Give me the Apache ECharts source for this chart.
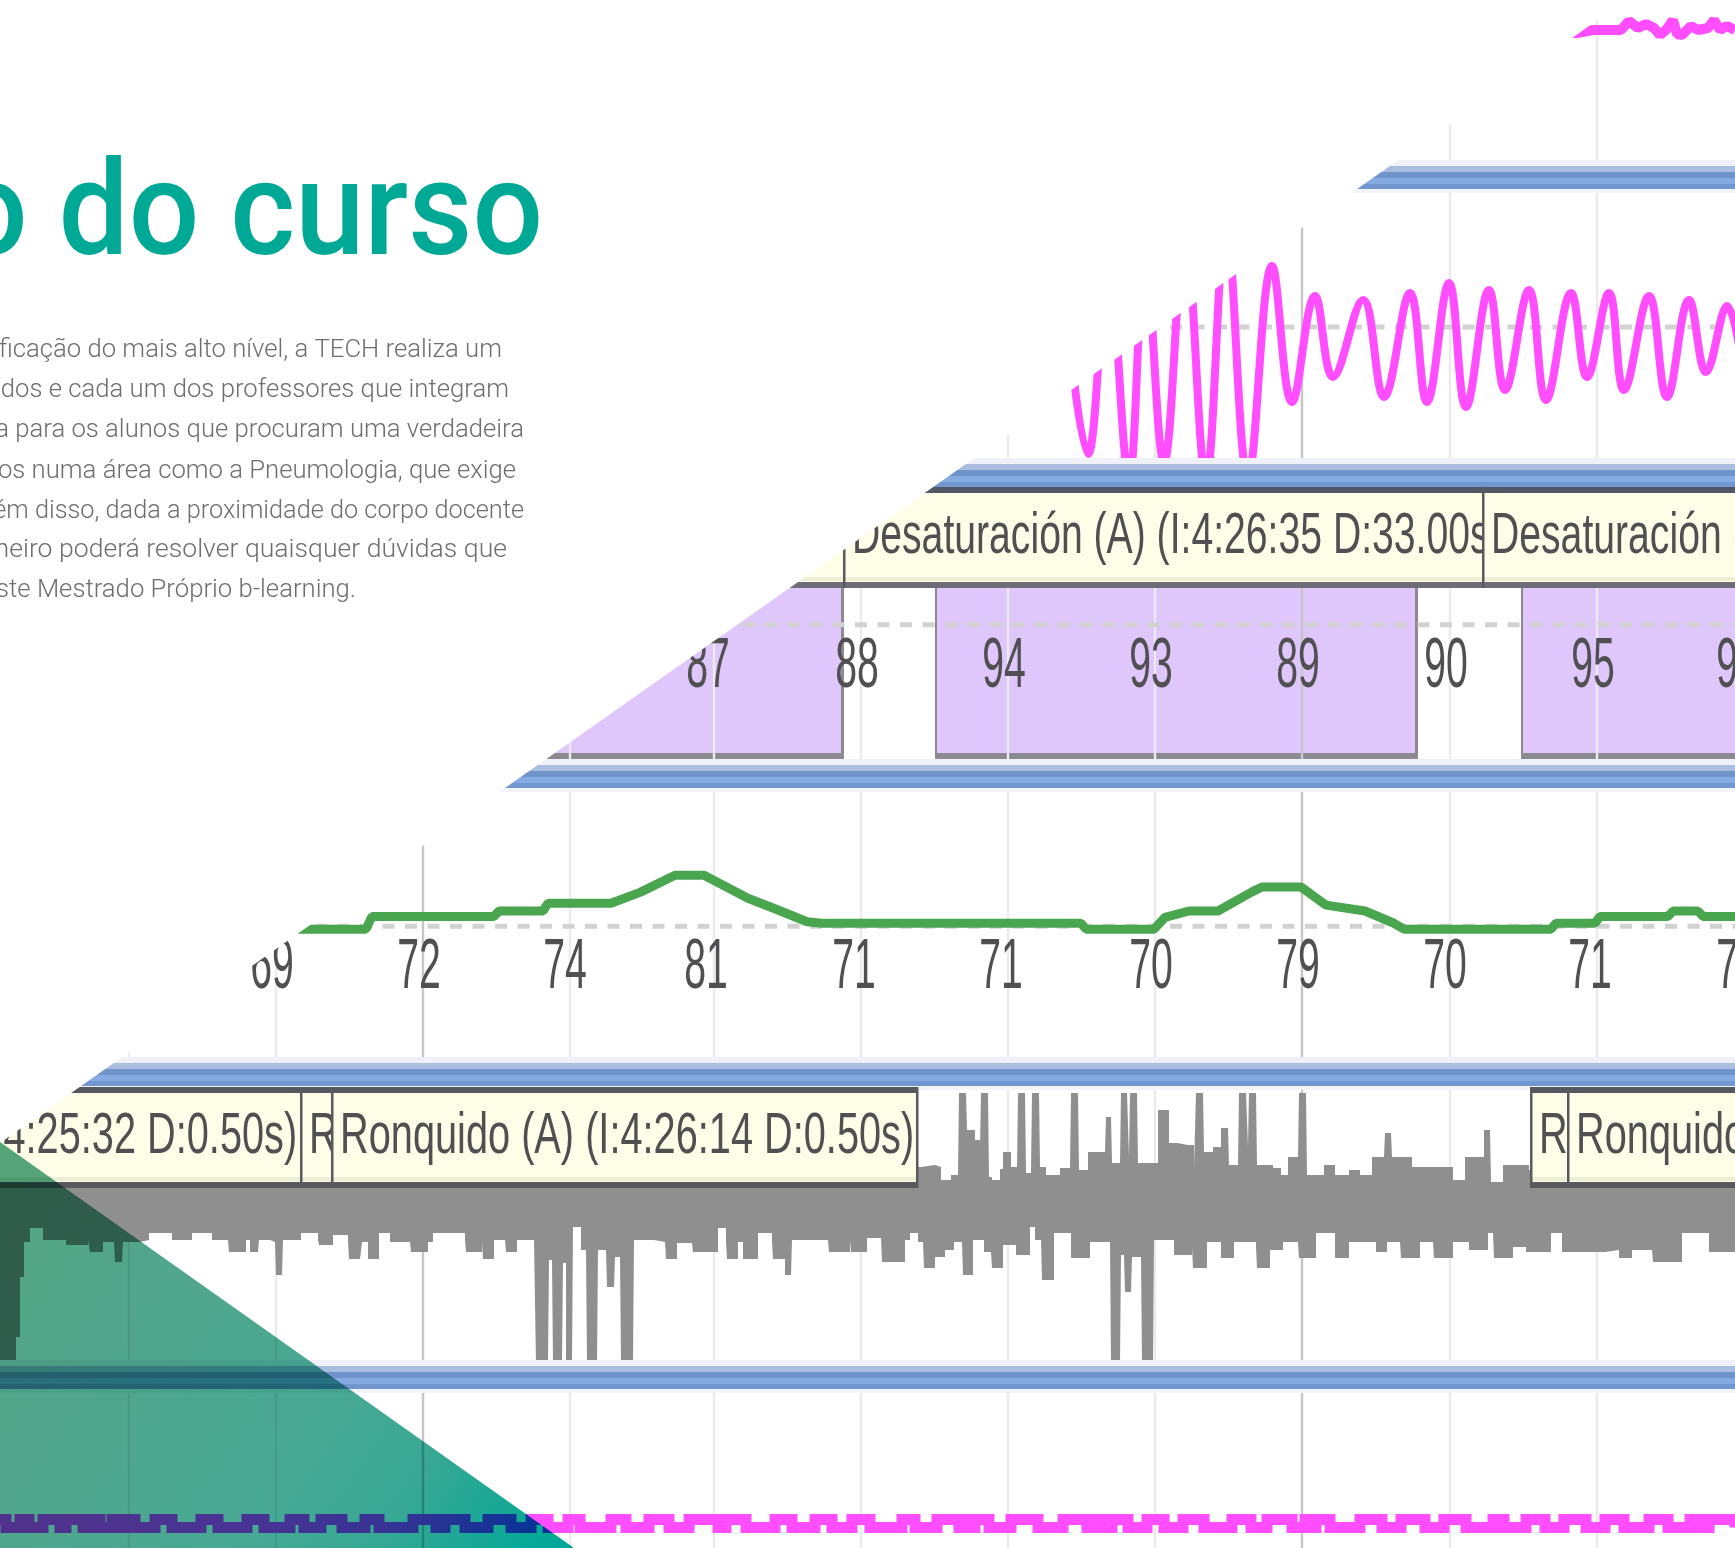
<!DOCTYPE html>
<html><head><meta charset="utf-8">
<style>html,body{margin:0;padding:0;background:#fff}#c{width:1735px;height:1548px}</style>
<script src="https://cdn.jsdelivr.net/npm/echarts@6/dist/echarts.min.js"></script>
</head><body><div id="c"></div>
<script>
// ---------- data ----------
const headingText = 'o do curso';
const bodyLines = [
 'ficação do mais alto nível, a TECH realiza um',
 'dos e cada um dos professores que integram',
 'a para os alunos que procuram uma verdadeira',
 'os numa área como a Pneumologia, que exige',
 'ém disso, dada a proximidade do corpo docente',
 'meiro poderá resolver quaisquer dúvidas que',
 'ste Mestrado Próprio b-learning.'
];
const bodyEnds = [502,509,524,516,524,507,356];
const minorTicks = [129,276,570,714,861,1008,1155,1450,1597];
const majorTicks = [423,1302];
const spo2LabelX = [708,857,1004,1151,1298,1446,1593,1738];
const spo2Labels = [87,88,94,93,89,90,95,94];
const hrLabelX = [272,419,565,706,854,1001,1151,1298,1445,1590,1738];
const hrLabels = [69,72,74,81,71,71,70,79,70,71,71];
const desatEvents = [[-100,844],[935,1418],[1521,1800]];
const desatBoxes = [[-300,844,''],[844,1483,'Desaturación (A) (I:4:26:35 D:33.00s)'],[1483,2200,'Desaturación (A) (I:4:27:10 D:26.00s)']];
const snoreBoxes = [[-285,301,'Ronquido (A) (I:4:25:32 D:0.50s)'],[301,332,'R'],[332,917,'Ronquido (A) (I:4:26:14 D:0.50s)'],[1531,1568,'R'],[1568,2200,'Ronquido (A) (I:4:27:01 D:0.50s)']];
const chestTrace = [[1500,0],[1577,-3],[1593,0],[1621,0],[1629,9],[1638,2],[1646,6],[1654,2],[1660,-5],[1666,0],[1673,10],[1677,-4],[1682,-5],[1691,4],[1698,0],[1708,2],[1714,10],[1720,0],[1727,4],[1735,0]];
const flowTrace = [[1060,90],[1088,-127],[1108,60],[1129,-150],[1145,70],[1164,-135],[1185,90],[1206,-150],[1226,100],[1248,-150],[1272,61],[1292,-75],[1315,31],[1333,-50],[1363,27],[1384,-70],[1410,34],[1427,-75],[1449,44],[1466,-80],[1489,37],[1505,-63],[1529,37],[1546,-73],[1571,34],[1587,-50],[1609,34],[1624,-63],[1649,31],[1667,-70],[1689,27],[1706,-45],[1727,21],[1745,-60]];
const dashFlow = [0];
const dashSpo2 = [49.5];
const dashHr = [70.6];
const hrTrace = [[280,70],[303,70],[366,70],[372,72.6],[494,72.6],[499,73.7],[543,73.7],[548,75.3],[611,75.3],[640,77.5],[675,81],[704,81],[748,76.3],[778,73.9],[807,71.5],[822,71.2],[1081,71.2],[1086,70],[1154,70],[1165,72.4],[1189,73.7],[1218,73.7],[1252,77.6],[1262,78.6],[1301,78.6],[1326,74.9],[1365,73.7],[1394,71.2],[1404,70],[1551,70],[1556,71.2],[1595,71.2],[1600,72.6],[1668,72.6],[1673,73.7],[1698,73.7],[1703,72.6],[1735,72.6]];
const snoreLow = [[0,-156],[13,-156],[16,-130],[20,-70],[24,-35],[30,-21],[43,-33],[60,-33],[66,-38],[72,-38],[88,-33],[90,-45],[96,-45],[103,-35],[114,-33],[115,-55],[122,-55],[123,-35],[140,-33],[149,-26],[172,-33],[192,-26],[212,-33],[228,-33],[229,-45],[240,-45],[246,-33],[250,-45],[258,-45],[259,-33],[270,-35],[275,-33],[276,-68],[282,-68],[283,-33],[301,-26],[318,-33],[319,-38],[326,-38],[333,-28],[348,-33],[349,-52],[360,-52],[362,-35],[368,-52],[375,-52],[379,-26],[390,-35],[410,-33],[411,-45],[418,-45],[428,-35],[433,-26],[465,-33],[466,-45],[472,-45],[482,-35],[483,-52],[489,-52],[494,-33],[505,-33],[506,-45],[512,-45],[517,-33],[534,-33],[536,-156],[548,-156],[549,-53],[552,-53],[553,-156],[562,-156],[563,-56],[565,-56],[566,-156],[572,-156],[573,-20],[578,-20],[581,-43],[586,-43],[587,-156],[597,-156],[598,-43],[606,-43],[607,-80],[614,-80],[615,-50],[620,-50],[621,-156],[633,-156],[634,-33],[654,-35],[665,-35],[666,-52],[672,-52],[677,-36],[692,-36],[693,-45],[700,-45],[718,-21],[726,-35],[727,-52],[733,-52],[738,-35],[743,-52],[749,-52],[758,-26],[772,-35],[773,-52],[780,-52],[785,-68],[791,-68],[792,-33],[801,-33],[828,-33],[829,-45],[836,-45],[850,-33],[851,-45],[858,-45],[867,-31],[881,-33],[882,-55],[888,-55],[905,-33],[910,-26],[918,-35],[923,-35],[924,-61],[929,-61],[935,-50],[945,-43],[954,-35],[962,-35],[963,-68],[968,-68],[973,-33],[984,-45],[991,-45],[992,-61],[997,-61],[1003,-38],[1016,-48],[1030,-20],[1035,-33],[1041,-33],[1042,-73],[1048,-73],[1054,-26],[1071,-51],[1078,-51],[1090,-35],[1110,-35],[1111,-156],[1120,-156],[1121,-48],[1124,-48],[1125,-85],[1131,-85],[1132,-50],[1141,-50],[1142,-156],[1153,-156],[1154,-33],[1174,-48],[1192,-40],[1193,-61],[1199,-61],[1207,-35],[1221,-51],[1234,-35],[1256,-40],[1257,-61],[1262,-61],[1270,-43],[1283,-35],[1298,-35],[1299,-51],[1306,-51],[1316,-26],[1335,-51],[1349,-35],[1376,-45],[1387,-35],[1400,-35],[1401,-51],[1407,-51],[1420,-35],[1433,-35],[1434,-51],[1440,-51],[1453,-35],[1469,-43],[1480,-43],[1488,-26],[1493,-26],[1494,-51],[1500,-51],[1513,-40],[1526,-45],[1551,-26],[1562,-45],[1570,-45],[1605,-43],[1619,-51],[1632,-43],[1652,-45],[1653,-55],[1658,-55],[1682,-26],[1709,-45],[1735,-35]];
const snoreHigh = [[0,40],[917,40],[921,42],[935,40],[941,27],[951,32],[958,35],[959,114],[966,114],[967,77],[975,67],[980,60],[981,114],[988,114],[989,30],[992,27],[1000,38],[1003,55],[1011,40],[1017,40],[1018,114],[1025,114],[1026,34],[1031,34],[1032,114],[1039,114],[1040,40],[1046,32],[1060,39],[1070,39],[1071,114],[1078,114],[1079,37],[1084,37],[1088,55],[1105,55],[1106,90],[1111,90],[1112,44],[1120,44],[1121,114],[1127,114],[1129,50],[1130,114],[1137,114],[1138,44],[1148,44],[1158,97],[1169,64],[1177,62],[1188,62],[1194,39],[1195,39],[1196,114],[1203,114],[1204,55],[1213,60],[1221,79],[1228,79],[1229,42],[1238,42],[1239,114],[1246,114],[1248,60],[1249,114],[1256,114],[1257,42],[1273,39],[1281,32],[1288,50],[1298,50],[1299,114],[1306,114],[1307,32],[1324,42],[1335,32],[1349,37],[1360,32],[1372,50],[1384,50],[1385,74],[1391,74],[1392,50],[1398,50],[1412,40],[1431,40],[1453,27],[1465,50],[1478,50],[1484,77],[1490,77],[1491,25],[1496,25],[1503,42],[1507,42],[1529,37],[1735,40]];
const beltHigh = [[0,6],[20,29],[43,60],[66,83],[92,100],[112,123],[129,135],[155,172],[201,218],[247,264],[290,304],[321,342],[365,379],[413,436],[445,465],[488,511],[531,548],[568,580],[611,626],[649,669],[689,718],[726,746],[775,792],[815,832],[852,870],[902,915],[937,959],[965,970],[975,989],[1011,1038],[1063,1087],[1098,1106],[1112,1128],[1147,1164],[1183,1204],[1232,1251],[1267,1292],[1305,1311],[1316,1330],[1360,1382],[1401,1425],[1444,1466],[1493,1504],[1526,1545],[1564,1586],[1605,1624],[1649,1668],[1690,1698],[1709,1735]];

// ---------- layout & style ----------
const W = 1735;
const panels = [
 {top:0,   h:160, min:-130, max:30},
 {top:193, h:265, min:-131, max:134},
 {top:487, h:273, min:0,    max:100},
 {top:790, h:267, min:43.9, max:98.4},
 {top:1087,h:273, min:-153, max:120},
 {top:1387,h:161, min:-24,  max:137}
];
const bandTops = [160,458,759,1057,1360];
const bandStripes = [[0,6,'#f0f1f8'],[6,12,'#a9bddf'],[12,18,'#7093c9'],[18,24,'#86aae2'],[24,29,'#7296cf'],[29,33,'#f3f4f9']];
const PINK='#ff4dff', GREEN='#49a64f', GRAY='#8f8f8f', PURPLE='#dfc6fb', CREAM='#fefee8', INK='#505052';
const labelFont = {fontFamily:'Liberation Sans', fontSize:70, fill:INK, align:'center', verticalAlign:'middle'};

const grid = panels.map(p=>({left:0,top:p.top,width:W,height:p.h,show:false}));
const xAxis = panels.map((p,i)=>({type:'value',gridIndex:i,min:0,max:W,show:false}));
const yAxis = panels.map((p,i)=>({type:'value',gridIndex:i,min:p.min,max:p.max,show:false}));
const series = [];

function tickSeries(i, ticks, color, z){
  series.push({type:'custom',xAxisIndex:i,yAxisIndex:i,z,silent:true,data:ticks.map(t=>[t]),
    renderItem(params,api){
      const x=api.coord([api.value(0),panels[i].min])[0], cs=params.coordSys;
      return {type:'rect',shape:{x:x-1.2,y:cs.y,width:2.4,height:cs.height},style:{fill:color}};
    }});
}
panels.forEach((p,i)=>{ tickSeries(i,minorTicks,'#ebebee',2); tickSeries(i,majorTicks,'#c6c6c8',2); });

function lineSeries(i,data,width,color,extra,join){
  series.push(Object.assign({type:'line',xAxisIndex:i,yAxisIndex:i,z:4,silent:true,showSymbol:false,data,
    lineStyle:{width,color,join:join||'bevel'}},extra||{}));
}
function dashed(i,v){
  series.push({type:'line',xAxisIndex:i,yAxisIndex:i,z:3,silent:true,showSymbol:false,data:[[0,v],[W,v]],
    lineStyle:{width:5,color:'#d2d2d2',type:[12,10.5]}});
}
dashed(1,dashFlow[0]); dashed(2,dashSpo2[0]); dashed(3,dashHr[0]);
lineSeries(0,chestTrace,10,PINK);
lineSeries(1,flowTrace,8,PINK,{smooth:0.4});
lineSeries(3,hrTrace,9,GREEN);
lineSeries(5,beltHigh.flatMap(b=>[[b[0],4.5],[b[1],-3.5]]),11,PINK,{step:'end'},'miter');
[snoreHigh,snoreLow].forEach(d=>lineSeries(4,d,0,GRAY,{step:'end',areaStyle:{color:GRAY,opacity:1,origin:0}}));

// purple desaturation blocks
series.push({type:'custom',xAxisIndex:2,yAxisIndex:2,z:1,silent:true,data:desatEvents,
  renderItem(params,api){
    const a=api.coord([api.value(0),63]), b=api.coord([api.value(1),0]);
    const y0=a[1], y1=b[1];
    return {type:'group',children:[
      {type:'rect',shape:{x:a[0],y:y0,width:b[0]-a[0],height:y1-y0},style:{fill:'#8c8a90'}},
      {type:'rect',shape:{x:a[0]+2,y:y0,width:b[0]-a[0]-5,height:y1-y0-7},style:{fill:PURPLE}}
    ]};
  }});

function labelSeries(i,xs,vals,v){
  series.push({type:'custom',xAxisIndex:i,yAxisIndex:i,z:6,silent:true,data:xs.map((x,k)=>[x,v,vals[k]]),
    renderItem(params,api){
      const c=api.coord([api.value(0),api.value(1)]);
      return {type:'text',x:c[0],y:c[1],scaleX:0.56,style:Object.assign({text:String(api.value(2))},labelFont)};
    }});
}
labelSeries(2,spo2LabelX,spo2Labels,33.7);
labelSeries(3,hrLabelX,hrLabels,61.9);

function boxSeries(i,boxes,height,barTop,barBot,sx){
  series.push({type:'custom',xAxisIndex:i,yAxisIndex:i,z:6,silent:true,data:boxes.map(b=>[b[0],b[1]]),
    renderItem(params,api){
      const b=boxes[params.dataIndex], y=params.coordSys.y;
      const x0=api.coord([b[0],0])[0], x1=api.coord([b[1],0])[0], w=x1-x0;
      return {type:'group',children:[
        {type:'rect',shape:{x:x0,y,width:w,height},style:{fill:CREAM}},
        {type:'rect',shape:{x:x0,y:y+height-11,width:w,height:4},style:{fill:'#eeeed4'}},
        {type:'rect',shape:{x:x0,y,width:w,height:6},style:{fill:barTop}},
        {type:'rect',shape:{x:x0,y:y+height-6,width:w,height:6},style:{fill:barBot}},
        {type:'rect',shape:{x:x0-1,y,width:2.5,height},style:{fill:'#5a5a5e'}},
        {type:'rect',shape:{x:x1-1,y,width:2.5,height},style:{fill:'#5a5a5e'}},
        {type:'text',x:x0+8,y:y+50,scaleX:sx,style:{text:b[2],fontFamily:'Liberation Sans',fontSize:58,fill:INK,align:'left',verticalAlign:'middle'}}
      ]};
    }});
}
boxSeries(2,desatBoxes,101,'#505866','#6e6c78',0.675);
boxSeries(4,snoreBoxes,101,'#55585e','#5a5a5e',0.685);

// ---------- decoration ----------
const graphic = [];
bandTops.forEach(t=>bandStripes.forEach(s=>graphic.push({type:'rect',z:5,silent:true,shape:{x:0,y:t+s[0],width:W,height:s[1]-s[0]},style:{fill:s[2]}})));
graphic.push({type:'polygon',z:50,silent:true,shape:{points:[[0,0],[1626,0],[0,1143]]},style:{fill:'#fff'}});
graphic.push({type:'polygon',z:60,silent:true,shape:{points:[[0,1142],[574,1548],[0,1548]]},
  style:{blend:'multiply',fill:new echarts.graphic.LinearGradient(0,0,1,1,[{offset:0,color:'#56a484'},{offset:0.33,color:'#50a68c'},{offset:0.6,color:'#48a994'},{offset:0.765,color:'#37a894'},{offset:0.95,color:'#05a896'},{offset:1,color:'#00a896'}])}});
graphic.push({type:'text',z:70,silent:true,x:543,y:221,scaleX:0.95,style:{text:headingText,fontFamily:'Roboto',fontWeight:500,fontSize:131,fill:'#00a896',align:'right',verticalAlign:'middle'}});
const bodyY = [351,391,431,472,512,551,591];
const bodyScale = [1,1,1,1,0.985,1.035,1];
bodyLines.forEach((t,i)=>graphic.push({type:'text',z:70,silent:true,x:bodyEnds[i],y:bodyY[i],scaleX:bodyScale[i],
  style:{text:t,fontFamily:'Roboto',fontWeight:300,fontSize:25.7,fill:'#6d6e71',align:'right',verticalAlign:'middle'}}));

const chart = echarts.init(document.getElementById('c'),null,{renderer:'canvas'});
chart.setOption({animation:false,backgroundColor:'#fff',grid,xAxis,yAxis,series,graphic});
</script></body></html>
